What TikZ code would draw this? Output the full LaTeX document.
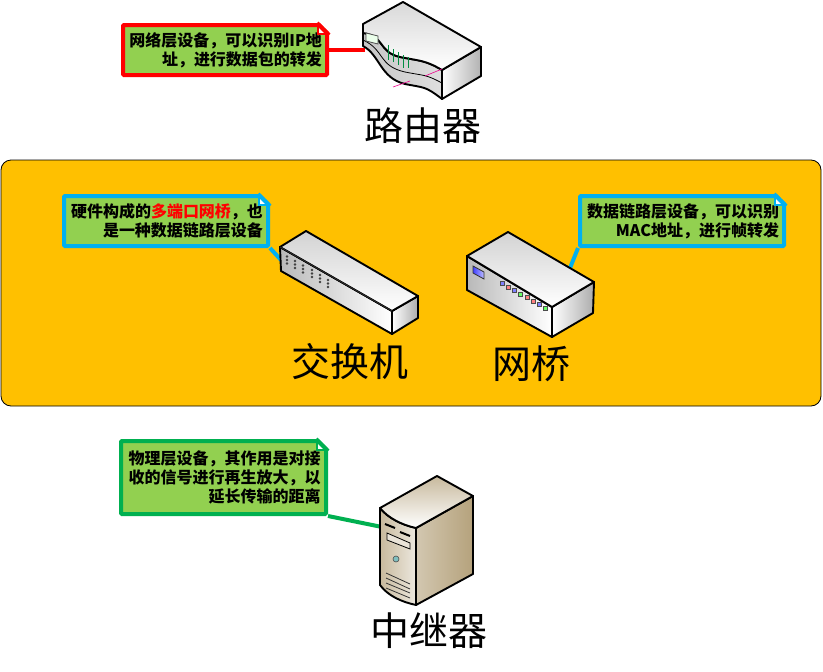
\documentclass[tikz,border=0pt]{standalone}
\usepackage{fontspec}
\setmainfont{Noto Sans CJK SC}
\usetikzlibrary{calc}
\definecolor{panelcolor}{HTML}{FFC000}
\definecolor{notecolor}{HTML}{92D050}
\definecolor{redline}{HTML}{FF0000}
\definecolor{blueline}{HTML}{00B0F0}
\definecolor{greenline}{HTML}{00B050}
\definecolor{servertan}{HTML}{B5A27C}
\newcommand{\thicknote}{4pt}
\newcommand{\widecomma}{\symbol{"FF0C}}
\newcommand{\notefold}[3]{
\fill[#3] ($(#1.north east)+(-12,-3)$) -- ($(#1.north east)+(3,-3)$) -- ($(#1.north east)+(3,12)$) -- cycle;
\fill[white] ($(#1.north east)+(-11,0)$) -- ($(#1.north east)+(0,11)$) -- ($(#1.north east)+(-11,11)$) -- cycle;
\draw[#2, line width=1.5pt] ($(#1.north east)+(-11,0)$) -- ($(#1.north east)+(-11,11)$) -- ($(#1.north east)+(0,11)$);
\draw[#2, line width=\thicknote] ($(#1.north east)+(-12,0)$) -- ($(#1.north east)+(0,12)$);
}
\tikzset{
note/.style={draw=#1, fill=notecolor, line width=\thicknote, rounded corners=1pt, minimum width=204pt, text width=194pt, inner sep=5pt, align=right, font=\fontsize{16pt}{19pt}\selectfont\bfseries},
tail/.style={draw=#1, line width=\thicknote},
title/.style={font=\fontsize{39pt}{41pt}\selectfont, inner sep=0pt},
box/.style={draw=black, line width=1.9pt, line join=round},
}

\begin{document}
\begin{tikzpicture}[x=1pt, y=-1pt]
\useasboundingbox (0,0) rectangle (823,672);
\node[draw=black, fill=panelcolor, line width=0.8pt, rounded corners=10pt, minimum width=820pt, minimum height=246pt] (panel) at (411,283) {};
%router
\coordinate (routerport) at (365,50);
\node[note=redline, minimum height=50pt] (routernote) at (225,50) {网络层设备\widecomma 可以识别IP地\\址\widecomma 进行数据包的转发};
\draw[tail=redline] (routernote.east) -- (routerport);
\notefold{routernote}{redline}{white}
\shade[box, left color=white, right color=gray!60] (442,70) -- (481,47) -- (481,76) -- (442,99) -- cycle;
\shade[box, left color=gray!45, right color=gray!25] (363,33) .. controls (385,36) and (378,52) .. (400,57) .. controls (420,61) and (425,60) .. (442,70) -- (442,99) .. controls (425,86) and (425,88) .. (405,84) .. controls (380,78) and (380,55) .. (363,46) -- cycle;
\shade[box, top color=gray!30, bottom color=white] (363,24) -- (403,2) -- (481,47) -- (442,70) .. controls (425,60) and (420,61) .. (400,57) .. controls (378,52) and (385,36) .. (363,33) -- cycle;
\draw[black, line width=0.8pt] (363,40) .. controls (385,50) and (378,66) .. (405,72) .. controls (425,76) and (425,74) .. (442,83);
\draw[black!70, fill=green!8, line width=0.8pt] (366,33) -- (378,36) -- (378,44) -- (366,41) -- cycle;
\draw[greenline!80!black, line width=0.7pt] (388,45) -- (388,60);
\draw[greenline!80!black, line width=0.7pt] (393,49) -- (393,62);
\draw[greenline!80!black, line width=0.7pt] (398,52) -- (398,65);
\draw[greenline!80!black, line width=0.7pt] (403,55) -- (403,68);
\draw[greenline!80!black, line width=0.7pt] (408,57) -- (408,68);
\draw[magenta, line width=0.6pt] (393,87) -- (410,81);
\draw[magenta, line width=0.6pt] (425,76) -- (442,69);
\node[title] (routertitle) at (423,126) {路由器};
%switch
\coordinate (switchport) at (281,260);
\node[note=blueline, minimum height=50pt] (switchnote) at (166,221) {硬件构成的\textcolor{red}{多端口网桥}\widecomma 也\\是一种数据链路层设备};
\draw[tail=blueline] (switchnote.south east) -- (switchport);
\notefold{switchnote}{blueline}{panelcolor}
\shade[box, left color=white, right color=gray!65] (392,311) -- (418,296) -- (418,318) -- (392,334) -- cycle;
\shade[box, left color=gray!55, right color=white] (280,247) -- (392,311) -- (392,334) -- (281,271) -- cycle;
\shade[box, top color=gray!35, bottom color=white] (306,231) -- (418,296) -- (392,311) -- (280,247) -- cycle;
\draw[black!80, line width=0.8pt] (280,247) -- (392,311);
\fill[black!75] (287,256.5) circle (1.4pt);
\fill[black!75] (287,260) circle (1.4pt);
\fill[black!75] (287,263.5) circle (1.4pt);
\fill[black!75] (295,261) circle (1.4pt);
\fill[black!75] (295,264.5) circle (1.4pt);
\fill[black!75] (295,268) circle (1.4pt);
\fill[black!75] (303,265.5) circle (1.4pt);
\fill[black!75] (303,269) circle (1.4pt);
\fill[black!75] (303,272.5) circle (1.4pt);
\fill[black!75] (312,270) circle (1.4pt);
\fill[black!75] (312,273.5) circle (1.4pt);
\fill[black!75] (312,277) circle (1.4pt);
\fill[black!75] (320,275) circle (1.4pt);
\fill[black!75] (320,278.5) circle (1.4pt);
\fill[black!75] (320,282) circle (1.4pt);
\fill[black!75] (328,280) circle (1.4pt);
\fill[black!75] (328,283.5) circle (1.4pt);
\fill[black!75] (328,287) circle (1.4pt);
\node[title] (switchtitle) at (350,362) {交换机};
%bridge
\coordinate (bridgeport) at (570,268);
\node[note=blueline, minimum height=50pt] (bridgenote) at (682,221) {数据链路层设备\widecomma 可以识别\\MAC地址\widecomma 进行帧转发};
\draw[tail=blueline] (bridgenote.south west) -- (bridgeport);
\notefold{bridgenote}{blueline}{panelcolor}
\shade[box, left color=white, right color=gray!65] (552,307) -- (594,282) -- (593,313) -- (552,337) -- cycle;
\shade[box, left color=gray!55, right color=white] (467,256) -- (552,307) -- (552,337) -- (467,290) -- cycle;
\shade[box, top color=gray!35, bottom color=white] (508,232) -- (594,282) -- (552,307) -- (467,256) -- cycle;
\shade[draw=black!80, left color=blue!75, right color=blue!25, line width=0.8pt] (473,266) -- (484,272) -- (484,279) -- (473,273) -- cycle;
\draw[black!70, fill=blue!50, line width=0.8pt] (500,281) rectangle (504.5,285.5);
\draw[black!70, fill=red!50, line width=0.8pt] (506,285) rectangle (510.5,289.5);
\draw[black!70, fill=blue!50, line width=0.8pt] (512,288) rectangle (516.5,292.5);
\draw[black!70, fill=green!60, line width=0.8pt] (518,292) rectangle (522.5,296.5);
\draw[black!70, fill=red!50, line width=0.8pt] (525,295) rectangle (529.5,299.5);
\draw[black!70, fill=red!50, line width=0.8pt] (531,299) rectangle (535.5,303.5);
\draw[black!70, fill=blue!50, line width=0.8pt] (537,302) rectangle (541.5,306.5);
\draw[black!70, fill=green!60, line width=0.8pt] (543,306) rectangle (547.5,310.5);
\node[title] (bridgetitle) at (531,364) {网桥};
%repeater
\coordinate (repeaterport) at (382,527);
\node[note=greenline, minimum height=73pt, minimum width=205pt] (repeaternote) at (223.5,477.5) {物理层设备\widecomma 其作用是对接\\收的信号进行再生放大\widecomma 以\\延长传输的距离};
\draw[tail=greenline] (repeaternote.south east) -- (repeaterport);
\notefold{repeaternote}{greenline}{white}
\shade[box, left color=servertan!60, middle color=white!90!servertan, right color=servertan] (416,528) -- (473,496) -- (473,574) -- (416,605) -- cycle;
\shade[box, left color=servertan!75, right color=white!75!servertan] (380,508) .. controls (388,518) and (402,525) .. (416,528) -- (416,605) .. controls (402,602) and (388,596) .. (380,585) -- cycle;
\shade[box, top color=servertan!75, bottom color=white] (380,508) -- (437,476) -- (473,496) -- (416,528) .. controls (402,525) and (388,518) .. (380,508) -- cycle;
\draw[black, line width=2pt] (385,524) -- (395,528);
\draw[black, line width=2pt] (400,532) -- (410,536);
\draw[black, fill=white!70!servertan, line width=0.8pt] (387,533) -- (410,543) -- (410,549) -- (387,540) -- cycle;
\draw[black!70, fill=teal!50, line width=0.6pt] (396,559) circle (3pt);
\draw[black!80, line width=0.8pt] (386,573) -- (410,584);
\draw[black!80, line width=0.8pt] (386,578) -- (410,589);
\draw[black!80, line width=0.8pt] (386,583) -- (410,593);
\draw[black!80, line width=0.8pt] (386,588) -- (410,598);
\node[title] (repeatertitle) at (429,631) {中继器};
\end{tikzpicture}
\end{document}
